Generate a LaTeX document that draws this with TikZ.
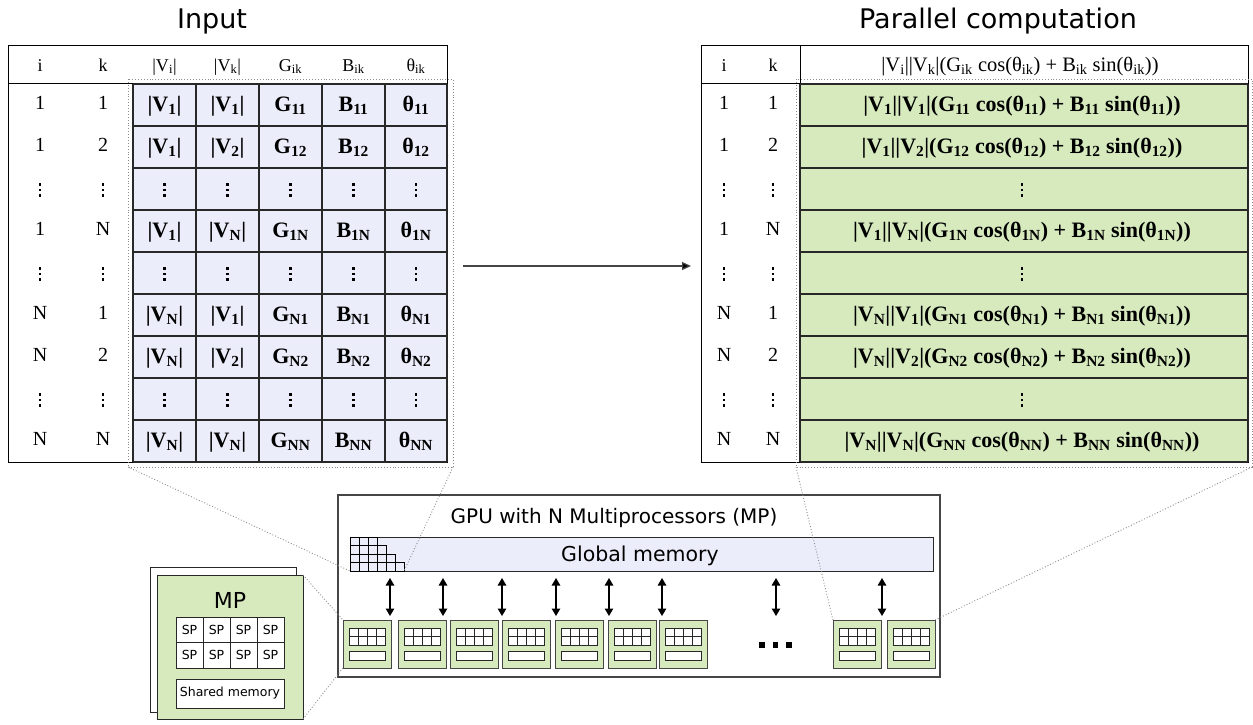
\documentclass[tikz,border=0pt]{standalone}
\usepackage{fontspec}
\setmainfont{Liberation Serif}
\newfontfamily\uisans{DejaVu Sans}
\usetikzlibrary{arrows.meta}

\definecolor{cellblue}{RGB}{235,238,250}
\definecolor{cellgreen}{RGB}{214,234,190}
\definecolor{rulegray}{RGB}{40,40,40}
\definecolor{boxgray}{RGB}{70,70,70}
\definecolor{zoomgray}{RGB}{140,140,140}

% three stacked dots marking skipped rows
\newcommand\skipdots[2]{%
  \foreach \dy in {-5.5,0,5.5}
    {\fill[black] ({#1-1.2},{#2+\dy-1.2}) rectangle ++(2.4,2.4);}}

\begin{document}
\begin{tikzpicture}[x=1pt,y=-1pt,
  tframe/.style={draw=black, line width=1pt},
  cellrule/.style={draw=rulegray, line width=1.7pt},
  hcell/.style={font=\fontsize{18}{18}\selectfont, inner sep=0pt, anchor=base},
  tcell/.style={font=\fontsize{20}{20}\selectfont, inner sep=0pt, anchor=base},
  bcell/.style={font=\fontsize{22}{22}\selectfont\bfseries, inner sep=0pt, anchor=base},
  heading/.style={font=\uisans\fontsize{27}{27}\selectfont, inner sep=0pt, anchor=base},
  uitext/.style={font=\uisans\fontsize{20}{20}\selectfont, inner sep=0pt, anchor=base},
  zoomline/.style={draw=zoomgray, dotted, line width=0.9pt},
  mpbox/.style={draw=boxgray, line width=1pt, fill=cellgreen},
  mpinner/.style={draw=rulegray, line width=0.9pt, fill=white},
  busarrow/.style={line width=1.2pt, {Triangle[length=7.5pt,width=8.5pt]}-{Triangle[length=7.5pt,width=8.5pt]}},
]
\useasboundingbox (0,0) rectangle (1253,724);
\fill[white] (0,0) rectangle (1253,724);

% ---------------- titles ----------------
\node[heading] (t-in) at (212,28) {Input};
\node[heading] (t-pc) at (998,28) {Parallel computation};

% ---------------- input table ----------------
\draw[tframe, fill=white] (8,45) rectangle (447,462);
\draw[tframe] (8,83.5) -- (447,83.5);
\fill[cellblue] (133,84) rectangle (447,462);
\foreach \x in {133,196,259,322,385,447} {\draw[cellrule] (\x,84) -- (\x,462);}
\foreach \y in {84,126,...,462} {\draw[cellrule] (133,\y) -- (447,\y);}

\node[hcell] (Lh-i) at (40,71) {i};
\node[hcell] (Lh-k) at (103,71) {k};
\node[hcell] (Lh-1) at (164.5,71) {|V\textsubscript{i}|};
\node[hcell] (Lh-2) at (227.5,71) {|V\textsubscript{k}|};
\node[hcell] (Lh-3) at (290.5,71) {G\textsubscript{ik}};
\node[hcell] (Lh-4) at (353.5,71) {B\textsubscript{ik}};
\node[hcell] (Lh-5) at (416,71) {θ\textsubscript{ik}};

\foreach \r/\a/\b in {0/1/1,1/1/2,3/1/N,5/N/1,6/N/2,8/N/N}{
  \pgfmathsetmacro\yt{105+42*\r+4}
  \pgfmathsetmacro\yb{105+42*\r+6}
  \node[tcell] (L\r-i) at (40,\yt) {\a};
  \node[tcell] (L\r-k) at (103,\yt) {\b};
  \node[bcell] (L\r-1) at (164.5,\yb) {|V\textsubscript{\a}|};
  \node[bcell] (L\r-2) at (227.5,\yb) {|V\textsubscript{\b}|};
  \node[bcell] (L\r-3) at (290.5,\yb) {G\textsubscript{\a\b}};
  \node[bcell] (L\r-4) at (353.5,\yb) {B\textsubscript{\a\b}};
  \node[bcell] (L\r-5) at (416,\yb) {θ\textsubscript{\a\b}};
}
\foreach \r in {2,4,7}{
  \pgfmathsetmacro\yc{105+42*\r+1}
  \foreach \x in {40,103,164.5,227.5,290.5,353.5,416} {\skipdots{\x}{\yc}}
}
\draw[zoomline] (128,79) rectangle (453,467);

% ---------------- result table ----------------
\draw[tframe, fill=white] (701,45) rectangle (1248,462);
\draw[tframe] (701,83.5) -- (1248,83.5);
\draw[tframe] (800,45) -- (800,83.5);
\fill[cellgreen] (800,84) rectangle (1248,462);
\foreach \x in {800,1248} {\draw[cellrule] (\x,84) -- (\x,462);}
\foreach \y in {84,126,...,462} {\draw[cellrule] (800,\y) -- (1248,\y);}

\node[hcell] (Rh-i) at (724,71) {i};
\node[hcell] (Rh-k) at (773,71) {k};
\node[hcell, font=\fontsize{20.5}{20.5}\selectfont] (Rh-f) at (1020,71)
  {|V\textsubscript{i}||V\textsubscript{k}|(G\textsubscript{ik} cos(θ\textsubscript{ik}) + B\textsubscript{ik} sin(θ\textsubscript{ik}))};

\foreach \r/\a/\b in {0/1/1,1/1/2,3/1/N,5/N/1,6/N/2,8/N/N}{
  \pgfmathsetmacro\yt{105+42*\r+4}
  \pgfmathsetmacro\yb{105+42*\r+6}
  \node[tcell] (R\r-i) at (724,\yt) {\a};
  \node[tcell] (R\r-k) at (773,\yt) {\b};
  \node[bcell] (R\r-f) at (1022,\yb)
    {|V\textsubscript{\a}||V\textsubscript{\b}|(G\textsubscript{\a\b} cos(θ\textsubscript{\a\b}) + B\textsubscript{\a\b} sin(θ\textsubscript{\a\b}))};
}
\foreach \r in {2,4,7}{
  \pgfmathsetmacro\yc{105+42*\r+1}
  \foreach \x in {724,773,1022} {\skipdots{\x}{\yc}}
}
\draw[zoomline] (796,79) rectangle (1252,467);

% ---------------- arrow between tables ----------------
\coordinate (in-out) at (463,266);
\coordinate (pc-in) at (691,266);
\draw[line width=1.2pt, draw=boxgray, -{Triangle[length=9pt,width=8pt,fill=black]}] (in-out) -- (pc-in);

% ---------------- GPU ----------------
\draw[draw=boxgray, line width=1.1pt, fill=white] (338,495) rectangle (940,677);
\node[uitext] (gpu) at (614,523) {GPU with N Multiprocessors (MP)};
\draw[draw=rulegray, line width=1pt, fill=cellblue] (350,537) rectangle (933,571);
\node[uitext, font=\uisans\fontsize{20.5}{20.5}\selectfont] (gmem) at (640,561) {Global memory};

% staircase of stored cells at the start of global memory
\foreach \r in {0,1,2,3}{
  \pgfmathtruncatemacro\nc{2+\r}
  \foreach \c in {0,...,\nc}
    {\draw[draw=black, line width=0.8pt, fill=cellblue] (350+9*\c,537+8.5*\r) rectangle ++(9,8.5);}
}

% multiprocessors
\foreach \x [count=\n] in {343,398,450,502,555,608,659,833,887}{
  \draw[mpbox] (\x,620) rectangle ++(48,48);
  \draw[mpinner] (\x+6,628) rectangle ++(36,17);
  \foreach \c in {1,2,3} {\draw[draw=rulegray, line width=0.9pt] (\x+6+9*\c,628) -- ++(0,17);}
  \draw[draw=rulegray, line width=0.9pt] (\x+6,636.5) -- ++(36,0);
  \draw[mpinner] (\x+6,651) rectangle ++(36,9);
}

% memory links
\foreach \x [count=\n] in {390,443,502,556,609,662,776,882}{
  \coordinate (gm-\n) at (\x,578);
  \coordinate (mp-\n) at (\x,616);
  \draw[busarrow] (gm-\n) -- (mp-\n);
}
\foreach \x in {759,772.5,786}
  {\fill[black] (\x,642) rectangle ++(5.5,6);}

% ---------------- multiprocessor detail ----------------
\draw[draw=rulegray, line width=1pt, fill=white] (150,567) rectangle (296,712);
\draw[draw=rulegray, line width=1pt, fill=cellgreen] (157,575) rectangle (303,719);
\node[font=\uisans\fontsize{22}{22}\selectfont, inner sep=0pt, anchor=base] (mp-title) at (230,608) {MP};
\foreach \r in {0,1}{
  \foreach \c in {0,1,2,3}{
    \draw[draw=rulegray, line width=0.9pt, fill=white] (176+27*\c,617+25.5*\r) rectangle ++(27,25.5);
    \node[font=\uisans\fontsize{12.5}{12.5}\selectfont, inner sep=0pt] (sp-\r-\c) at (189.5+27*\c,629.75+25.5*\r) {SP};
  }
}
\draw[draw=rulegray, line width=0.9pt, fill=white] (176,679) rectangle (284,708);
\node[font=\uisans\fontsize{12.5}{12.5}\selectfont, inner sep=0pt] (smem) at (230,693.5) {Shared memory};

% ---------------- zoom guides ----------------
\coordinate (inz-bl) at (128,467);
\coordinate (inz-br) at (453,467);
\coordinate (gst-bl) at (350,571);
\coordinate (gst-br) at (404,571);
\coordinate (pcz-bl) at (796,467);
\coordinate (pcz-br) at (1252,467);
\coordinate (mp8-tl) at (833,620);
\coordinate (mp9-tr) at (935,620);
\coordinate (det-tr) at (303,575);
\coordinate (det-br) at (303,719);
\coordinate (mp1-tl) at (343,620);
\coordinate (mp1-bl) at (343,668);
\draw[zoomline] (inz-bl) -- (gst-bl);
\draw[zoomline] (inz-br) -- (gst-br);
\draw[zoomline] (pcz-bl) -- (mp8-tl);
\draw[zoomline] (pcz-br) -- (mp9-tr);
\draw[zoomline] (det-tr) -- (mp1-tl);
\draw[zoomline] (det-br) -- (mp1-bl);
\end{tikzpicture}
\end{document}
